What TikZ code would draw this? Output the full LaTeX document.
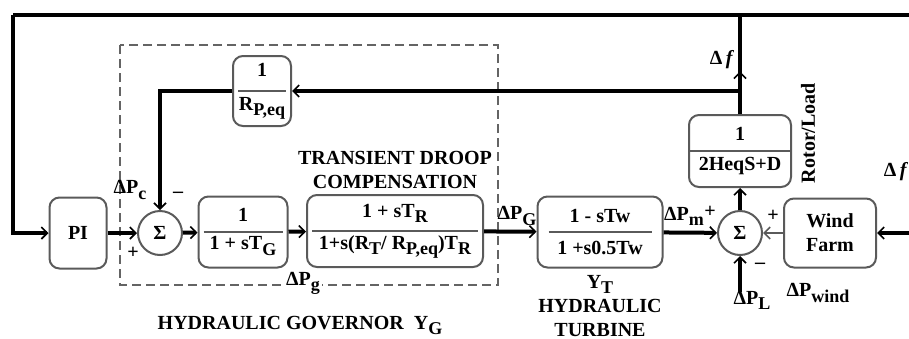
\documentclass[tikz,border=0pt]{standalone}
\usepackage{fontspec}
\setmainfont{Liberation Serif}
\usetikzlibrary{arrows.meta, positioning, decorations.markings}
\definecolor{hydro-gray}{RGB}{90,90,90}
\definecolor{hydro-dash}{RGB}{100,100,100}
\newcommand{\lsub}[1]{\raisebox{-0.55ex}{\small #1}}

\begin{document}
\begin{tikzpicture}[x=0.5pt, y=-0.5pt, font=\bfseries,
  block/.style={draw=hydro-gray, line width=1pt, rounded corners=5pt, align=center, inner sep=1pt},
  sum/.style={draw=hydro-gray, line width=1pt, circle, minimum size=22pt, inner sep=0pt},
  sig/.style={line width=2pt, black},
  arr/.style={sig, -{Straight Barb[length=3pt, width=6pt, line width=0.8pt]}},
  thinarr/.style={line width=1pt, hydro-gray, -{Straight Barb[length=3pt, width=6pt, line width=0.8pt]}},
  midarr/.style={postaction={decorate}, decoration={markings, mark=at position 0.43 with {\arrow{Straight Barb[length=3pt, width=6pt, line width=0.8pt]}}}},
  bar/.style={hydro-gray, line width=1pt},
  govbox/.style={draw=hydro-dash, line width=1.3pt, dash pattern=on 4.5pt off 2.5pt},
  lbl/.style={inner sep=1pt},
]
  \useasboundingbox (0,0) rectangle (909,338);

  \draw[govbox] (120,45) rectangle (498,285);

  \node[block, minimum width=28.5pt, minimum height=35.5pt] (pi) at (78,233) {PI};
  \node[sum] (s1) at (160,233) {Σ};
  \node[block, minimum width=44.5pt, minimum height=35.5pt] (gov) at (243,232) {1\\[2pt]1 + sT\lsub{G}};
  \node[block, minimum width=88pt, minimum height=36pt] (droop) at (395,231) {1 + sT\lsub{R}\\[4pt]1+s(R\lsub{T}/ R\lsub{P,eq})T\lsub{R}};
  \node[block, minimum width=29pt, minimum height=35pt] (rp) at (262,91) {1\\[5pt]R\lsub{P,eq}};
  \node[block, minimum width=62.5pt, minimum height=35.5pt] (turb) at (600,232) {1 - sTw\\[4pt]1 +s0.5Tw};
  \node[sum] (s2) at (740,233) {Σ};
  \node[block, minimum width=51pt, minimum height=36pt] (rot) at (740,151) {1\\[3pt]2HeqS+D};
  \node[block, minimum width=46pt, minimum height=34.5pt] (wind) at (830,233) {Wind\\Farm};

  \foreach \b in {gov,droop,rp} \draw[bar] ([xshift=3pt]\b.west) -- ([xshift=-3pt]\b.east);
  \draw[bar] ([xshift=6pt]turb.west) -- ([xshift=-6pt]turb.east);
  \draw[bar] (rot.west) -- (rot.east);

  \coordinate (topR) at (909,15);
  \coordinate (topL) at (13,15);
  \coordinate (fb) at (740,15);
  \coordinate (tap) at (740,91);
  \coordinate (windin) at (909,233);
  \coordinate (load) at (740,292);

  \draw[sig] (topR) -- (topL);
  \draw[arr] (topL) |- (pi.west);
  \draw[arr] (pi) -- (s1);
  \draw[arr] (rp.west) -| (s1.north);
  \draw[arr] (s1) -- (gov);
  \draw[arr] (gov) -- (droop);
  \draw[arr] (droop) -- (turb);
  \draw[arr] (turb) -- (s2);
  \draw[arr] (s2) -- (rot);
  \draw[sig, midarr] (rot) -- (fb);
  \draw[arr] (tap) -- (rp.east);
  \draw[thinarr] (wind) -- (s2);
  \draw[arr] (windin) -- (wind);
  \draw[arr] (load) -- (s2);

  \node[lbl] (dpc) at (130,190) {ΔP\lsub{c}};
  \node[lbl] (mn1) at (178,195) {\textendash};
  \node[lbl] (pl1) at (133,253) {+};
  \node[lbl, fill=white] (dpg) at (303,283) {ΔP\lsub{g}};
  \node[lbl] (dpG) at (517,216) {ΔP\lsub{G}};
  \node[lbl] (dpm) at (684,216) {ΔP\lsub{m}};
  \node[lbl] (plm) at (710,212) {+};
  \node[lbl] (plw) at (773,216) {+};
  \node[lbl] (mnl) at (760,266) {\textendash};
  \node[lbl] (dpl) at (752,300) {ΔP\lsub{L}};
  \node[lbl] (dpw) at (818,293) {ΔP\lsub{wind}};
  \node[lbl] (df1) at (722,60) {Δ\,\textit{f}};
  \node[lbl] (df2) at (896,172) {Δ\,\textit{f}};
  \node[lbl, rotate=90] (rlt) at (808,133) {Rotor/Load};
  \node[lbl, align=center] (tdc) at (395,170) {TRANSIENT DROOP\\COMPENSATION};
  \node[lbl] (hg) at (300,325) {HYDRAULIC GOVERNOR~~Y\lsub{G}};
  \node[lbl, align=center] (ht) at (600,306) {Y\lsub{T}\\HYDRAULIC\\TURBINE};
\end{tikzpicture}
\end{document}
